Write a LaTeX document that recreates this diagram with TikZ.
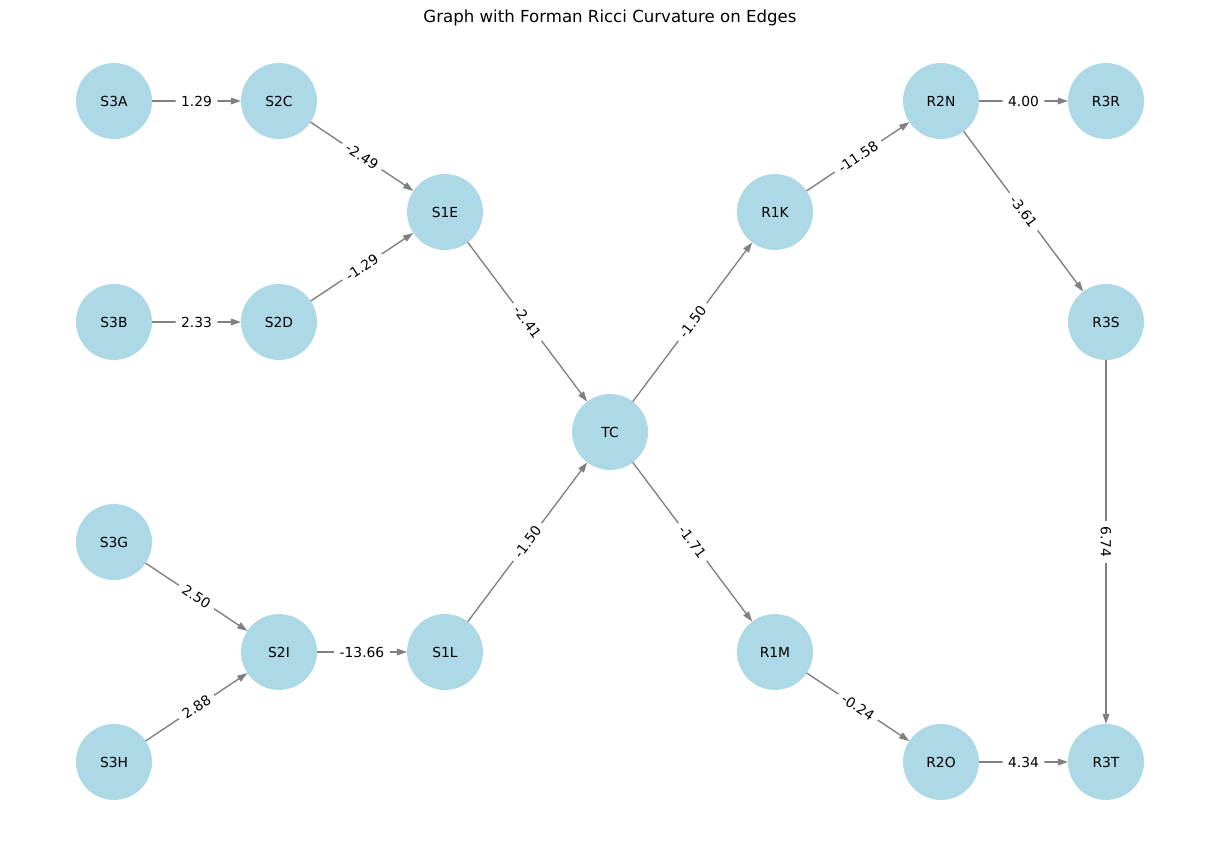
\documentclass[tikz,border=0pt]{standalone}
\usepackage{fontspec}
\setmainfont{DejaVu Sans}
\usetikzlibrary{arrows.meta}
\definecolor{nodeblue}{RGB}{173,216,230}
\definecolor{edgegray}{RGB}{128,128,128}
\begin{document}
\begin{tikzpicture}[x=0.0254cm,y=-0.0254cm,
                       main node/.style={circle,fill=nodeblue,minimum size=1.93cm,inner sep=0pt,outer sep=0pt,font=\fontsize{10}{12}\selectfont},
                       elabel/.style={fill=white,inner xsep=4pt,inner ysep=2.5pt,rounded corners=2pt,font=\fontsize{10}{12}\selectfont},
                       every edge/.style={draw=edgegray,line width=1pt,-{Triangle[length=2.6mm,width=1.7mm]}}
                      ]
  \useasboundingbox (0,0) rectangle (1220,842);
  \node[font=\fontsize{12}{14}\selectfont] (title) at (610,18) {Graph with Forman Ricci Curvature on Edges};
  % sources
  \node[main node] (S3A) at (114,101) {S3A};
  \node[main node] (S3B) at (114,322) {S3B};
  \node[main node] (S3G) at (114,542) {S3G};
  \node[main node] (S3H) at (114,762) {S3H};
  \node[main node] (S2C) at (279,101) {S2C};
  \node[main node] (S2D) at (279,322) {S2D};
  \node[main node] (S2I) at (279,652) {S2I};
  \node[main node] (S1E) at (445,212) {S1E};
  \node[main node] (S1L) at (445,652) {S1L};
  \node[main node] (TC) at (610,432) {TC};
  % receivers
  \node[main node] (R1K) at (775,212) {R1K};
  \node[main node] (R1M) at (775,652) {R1M};
  \node[main node] (R2N) at (941,101) {R2N};
  \node[main node] (R2O) at (941,762) {R2O};
  \node[main node] (R3R) at (1106,101) {R3R};
  \node[main node] (R3S) at (1106,322) {R3S};
  \node[main node] (R3T) at (1106,762) {R3T};
  \path%
   (S3A) edge node[elabel,sloped] {1.29} (S2C)
   (S3B) edge node[elabel,sloped] {2.33} (S2D)
   (S2C) edge node[elabel,sloped] {-2.49} (S1E)
   (S2D) edge node[elabel,sloped] {-1.29} (S1E)
   (S3G) edge node[elabel,sloped] {2.50} (S2I)
   (S3H) edge node[elabel,sloped] {2.88} (S2I)
   (S2I) edge node[elabel,sloped] {-13.66} (S1L)
   (S1E) edge node[elabel,sloped] {-2.41} (TC)
   (S1L) edge node[elabel,sloped] {-1.50} (TC)
   (TC) edge node[elabel,sloped] {-1.50} (R1K)
   (TC) edge node[elabel,sloped] {-1.71} (R1M)
   (R1K) edge node[elabel,sloped] {-11.58} (R2N)
   (R1M) edge node[elabel,sloped] {-0.24} (R2O)
   (R2N) edge node[elabel,sloped] {4.00} (R3R)
   (R2N) edge node[elabel,sloped] {-3.61} (R3S)
   (R2O) edge node[elabel,sloped] {4.34} (R3T)
   (R3S) edge node[elabel,rotate=-90] {6.74} (R3T);
 \end{tikzpicture}
\end{document}
